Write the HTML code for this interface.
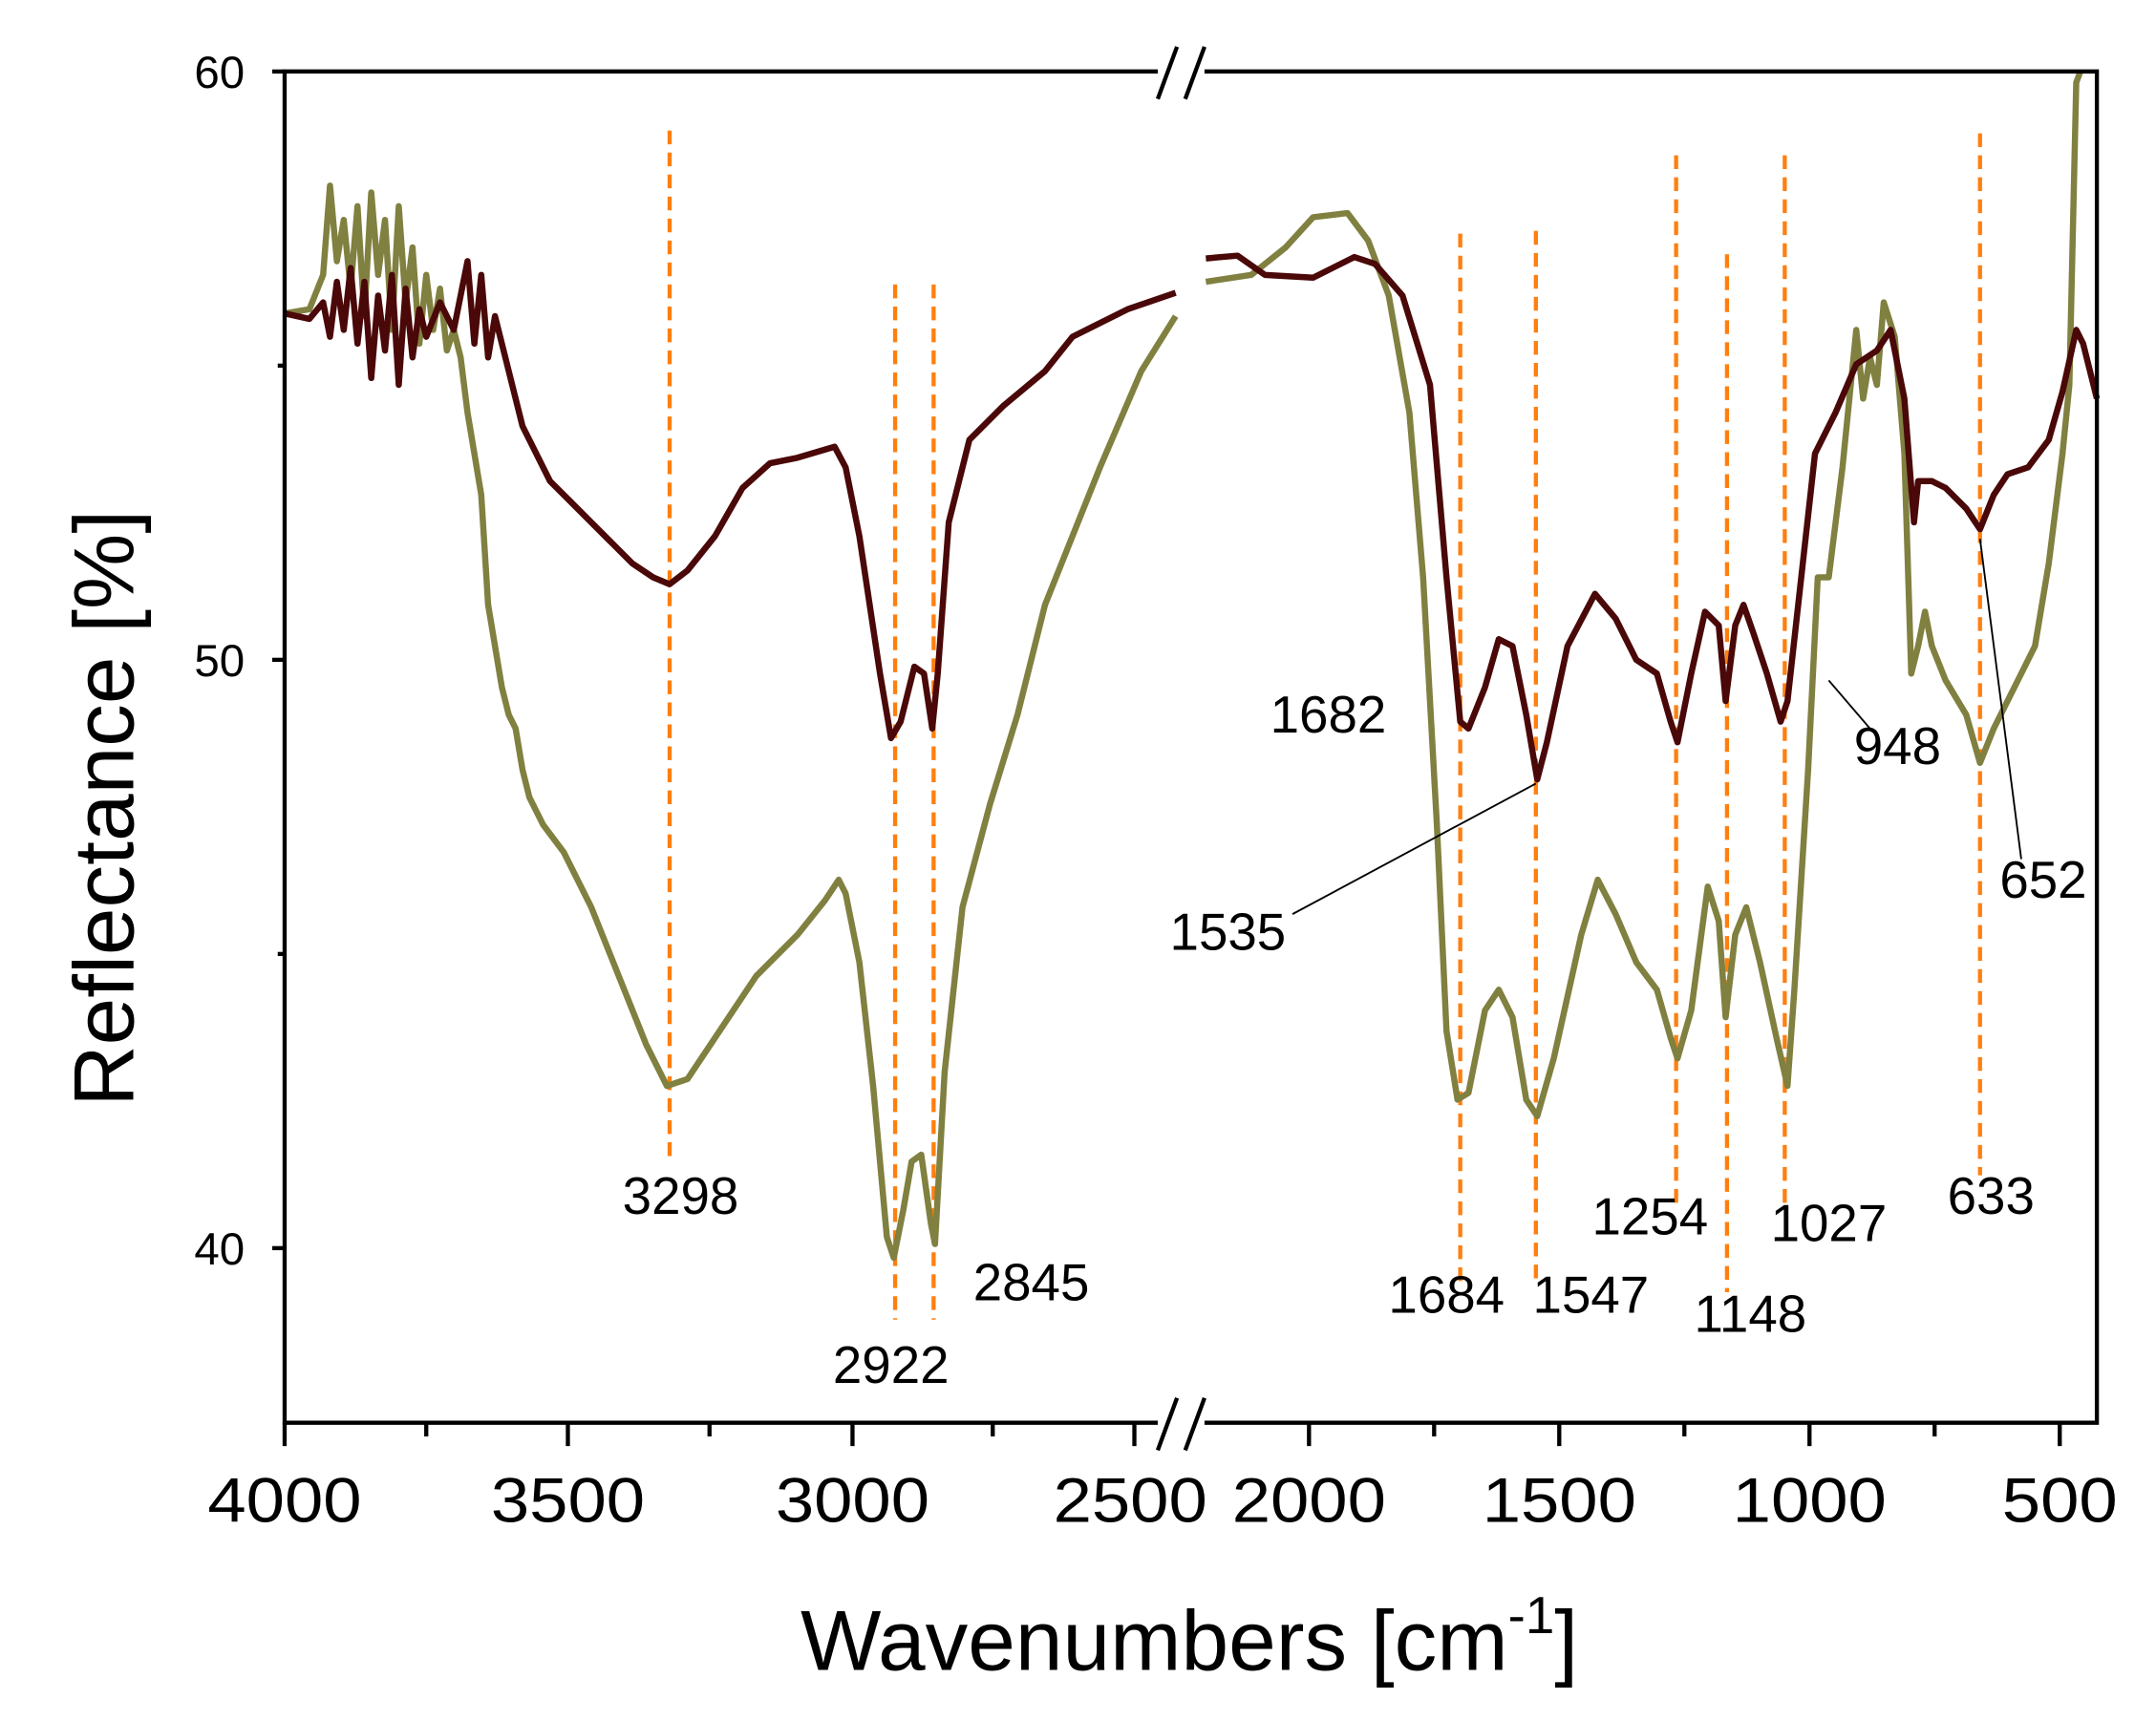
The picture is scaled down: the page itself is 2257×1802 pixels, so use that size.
<!DOCTYPE html>
<html><head><meta charset="utf-8"><style>html,body{margin:0;padding:0;background:#fff}svg{display:block}</style></head><body>
<svg width="2257" height="1802" viewBox="0 0 1568 1252" preserveAspectRatio="none" xmlns="http://www.w3.org/2000/svg" font-family="Liberation Sans, Arial, sans-serif">
<rect width="1568" height="1252" fill="#fff"/>
<g stroke="#ff7f0e" stroke-width="3" stroke-dasharray="10,6">
<line x1="487" y1="95" x2="487" y2="845"/><line x1="651" y1="207" x2="651" y2="960"/><line x1="679" y1="207" x2="679" y2="960"/>
<line x1="1062" y1="170" x2="1062" y2="935"/><line x1="1117" y1="168" x2="1117" y2="935"/><line x1="1219" y1="113" x2="1219" y2="880"/>
<line x1="1256" y1="185" x2="1256" y2="940"/><line x1="1298" y1="113" x2="1298" y2="880"/><line x1="1440" y1="97" x2="1440" y2="855"/>
</g>
<g fill="none" stroke-width="4.5" stroke-linejoin="round">
<polyline stroke="#808040" points="207,228 225,225 235,200 240,135 245,190 250,160 255,210 260,150 265,230 270,140 275,200 280,160 285,240 290,150 295,220 300,180 305,250 310,200 315,240 320,210 325,255 330,240 335,260 340,300 345,330 350,360 355,440 360,470 365,500 370,520 375,530 380,560 385,580 390,590 395,600 410,620 430,660 450,710 470,760 485,790 500,785 520,755 550,710 580,680 600,655 610,640 615,650 625,700 635,790 645,900 650,915 657,880 663,845 670,840 677,890 680,905 687,780 700,660 720,585 740,520 760,440 780,390 800,340 830,270 855,230"/>
<polyline stroke="#808040" points="877,205 910,200 935,180 955,158 980,155 995,175 1010,215 1025,300 1035,420 1045,600 1052,750 1060,800 1068,795 1080,735 1090,720 1100,740 1110,800 1118,812 1130,770 1150,680 1162,640 1175,665 1190,700 1205,720 1215,755 1220,770 1230,735 1242,645 1250,670 1255,740 1262,680 1270,660 1280,700 1292,755 1300,790 1305,720 1315,560 1322,420 1330,420 1340,340 1350,240 1355,290 1360,260 1365,280 1370,220 1378,245 1385,330 1390,490 1395,470 1400,445 1405,470 1415,495 1430,520 1440,555 1450,530 1465,500 1480,470 1490,410 1500,330 1505,280 1510,60 1513,52"/>
<polyline stroke="#4a0808" points="207,228 225,232 235,220 240,245 245,205 250,240 255,195 260,250 265,205 270,275 275,215 280,255 285,200 290,280 295,210 300,260 305,225 310,245 320,220 330,240 340,190 345,250 350,200 355,260 360,230 370,270 380,310 390,330 400,350 415,365 430,380 445,395 460,410 475,420 487,425 500,415 520,390 540,355 560,337 580,333 607,325 615,340 625,390 640,490 648,537 655,525 665,485 672,490 678,530 682,490 690,380 705,320 730,295 760,270 780,245 820,225 855,213"/>
<polyline stroke="#4a0808" points="877,188 900,186 920,200 955,202 985,187 1000,192 1020,215 1040,280 1052,420 1062,525 1068,530 1080,500 1090,465 1100,470 1110,520 1118,567 1125,540 1140,470 1160,432 1175,450 1190,480 1205,490 1215,525 1220,540 1230,490 1240,445 1250,455 1255,510 1262,455 1268,440 1275,460 1285,490 1295,525 1300,510 1310,420 1320,330 1335,300 1350,265 1365,255 1375,240 1385,290 1392,380 1395,350 1405,350 1415,355 1430,370 1440,385 1450,360 1460,345 1475,340 1490,320 1500,285 1510,240 1515,250 1525,290"/>
</g>
<g stroke="#000" stroke-width="1.3">
<line x1="940" y1="665" x2="1117" y2="570"/><line x1="1360" y1="530" x2="1330" y2="495"/><line x1="1470" y1="625" x2="1440" y2="392"/>
</g>
<g fill="#fff"><rect x="842" y="40" width="34" height="25"/><rect x="842" y="1022" width="34" height="30"/></g>
<g fill="none" stroke="#000" stroke-width="3">
<polyline points="842,52 207,52 207,1035 842,1035"/><polyline points="876,52 1525,52 1525,1035 876,1035"/>
<line x1="842" y1="72" x2="856" y2="34"/><line x1="862" y1="72" x2="876" y2="34"/>
<line x1="842" y1="1055" x2="856" y2="1017"/><line x1="862" y1="1055" x2="876" y2="1017"/>
<line x1="207" y1="52" x2="198" y2="52"/><line x1="207" y1="480" x2="198" y2="480"/><line x1="207" y1="908" x2="198" y2="908"/>
<line x1="207" y1="266" x2="202" y2="266"/><line x1="207" y1="694" x2="202" y2="694"/>
<line x1="207" y1="1035" x2="207" y2="1052"/><line x1="413" y1="1035" x2="413" y2="1052"/><line x1="620" y1="1035" x2="620" y2="1052"/><line x1="825" y1="1035" x2="825" y2="1052"/>
<line x1="310" y1="1035" x2="310" y2="1045"/><line x1="516" y1="1035" x2="516" y2="1045"/><line x1="722" y1="1035" x2="722" y2="1045"/>
<line x1="952" y1="1035" x2="952" y2="1052"/><line x1="1134" y1="1035" x2="1134" y2="1052"/><line x1="1316" y1="1035" x2="1316" y2="1052"/><line x1="1498" y1="1035" x2="1498" y2="1052"/>
<line x1="1043" y1="1035" x2="1043" y2="1045"/><line x1="1225" y1="1035" x2="1225" y2="1045"/><line x1="1407" y1="1035" x2="1407" y2="1045"/>
</g>
<g font-size="33" text-anchor="end"><text x="178" y="64">60</text><text x="178" y="492">50</text><text x="178" y="920">40</text></g>
<g font-size="46" text-anchor="middle" lengthAdjust="spacingAndGlyphs">
<text x="207" y="1107" textLength="112" lengthAdjust="spacingAndGlyphs">4000</text><text x="413" y="1107" textLength="112" lengthAdjust="spacingAndGlyphs">3500</text><text x="620" y="1107" textLength="112" lengthAdjust="spacingAndGlyphs">3000</text><text x="822" y="1107" textLength="112" lengthAdjust="spacingAndGlyphs">2500</text>
<text x="952" y="1107" textLength="112" lengthAdjust="spacingAndGlyphs">2000</text><text x="1134" y="1107" textLength="112" lengthAdjust="spacingAndGlyphs">1500</text><text x="1316" y="1107" textLength="112" lengthAdjust="spacingAndGlyphs">1000</text><text x="1498" y="1107" textLength="84" lengthAdjust="spacingAndGlyphs">500</text>
</g>
<g font-size="38" text-anchor="middle">
<text x="495" y="883">3298</text><text x="648" y="1006">2922</text><text x="750" y="946">2845</text>
<text x="966" y="533">1682</text><text x="893" y="691">1535</text><text x="1052" y="955">1684</text><text x="1157" y="955">1547</text>
<text x="1200" y="898">1254</text><text x="1273" y="969">1148</text><text x="1330" y="903">1027</text><text x="1380" y="556">948</text>
<text x="1448" y="883">633</text><text x="1486" y="653">652</text>
</g>
<text x="865" y="1215" font-size="62" text-anchor="middle">Wavenumbers [cm<tspan font-size="38" dy="-27">-1</tspan><tspan dy="27">]</tspan></text>
<text transform="translate(97,588) rotate(-90)" font-size="62" text-anchor="middle">Reflectance [%]</text>
</svg>
</body></html>
